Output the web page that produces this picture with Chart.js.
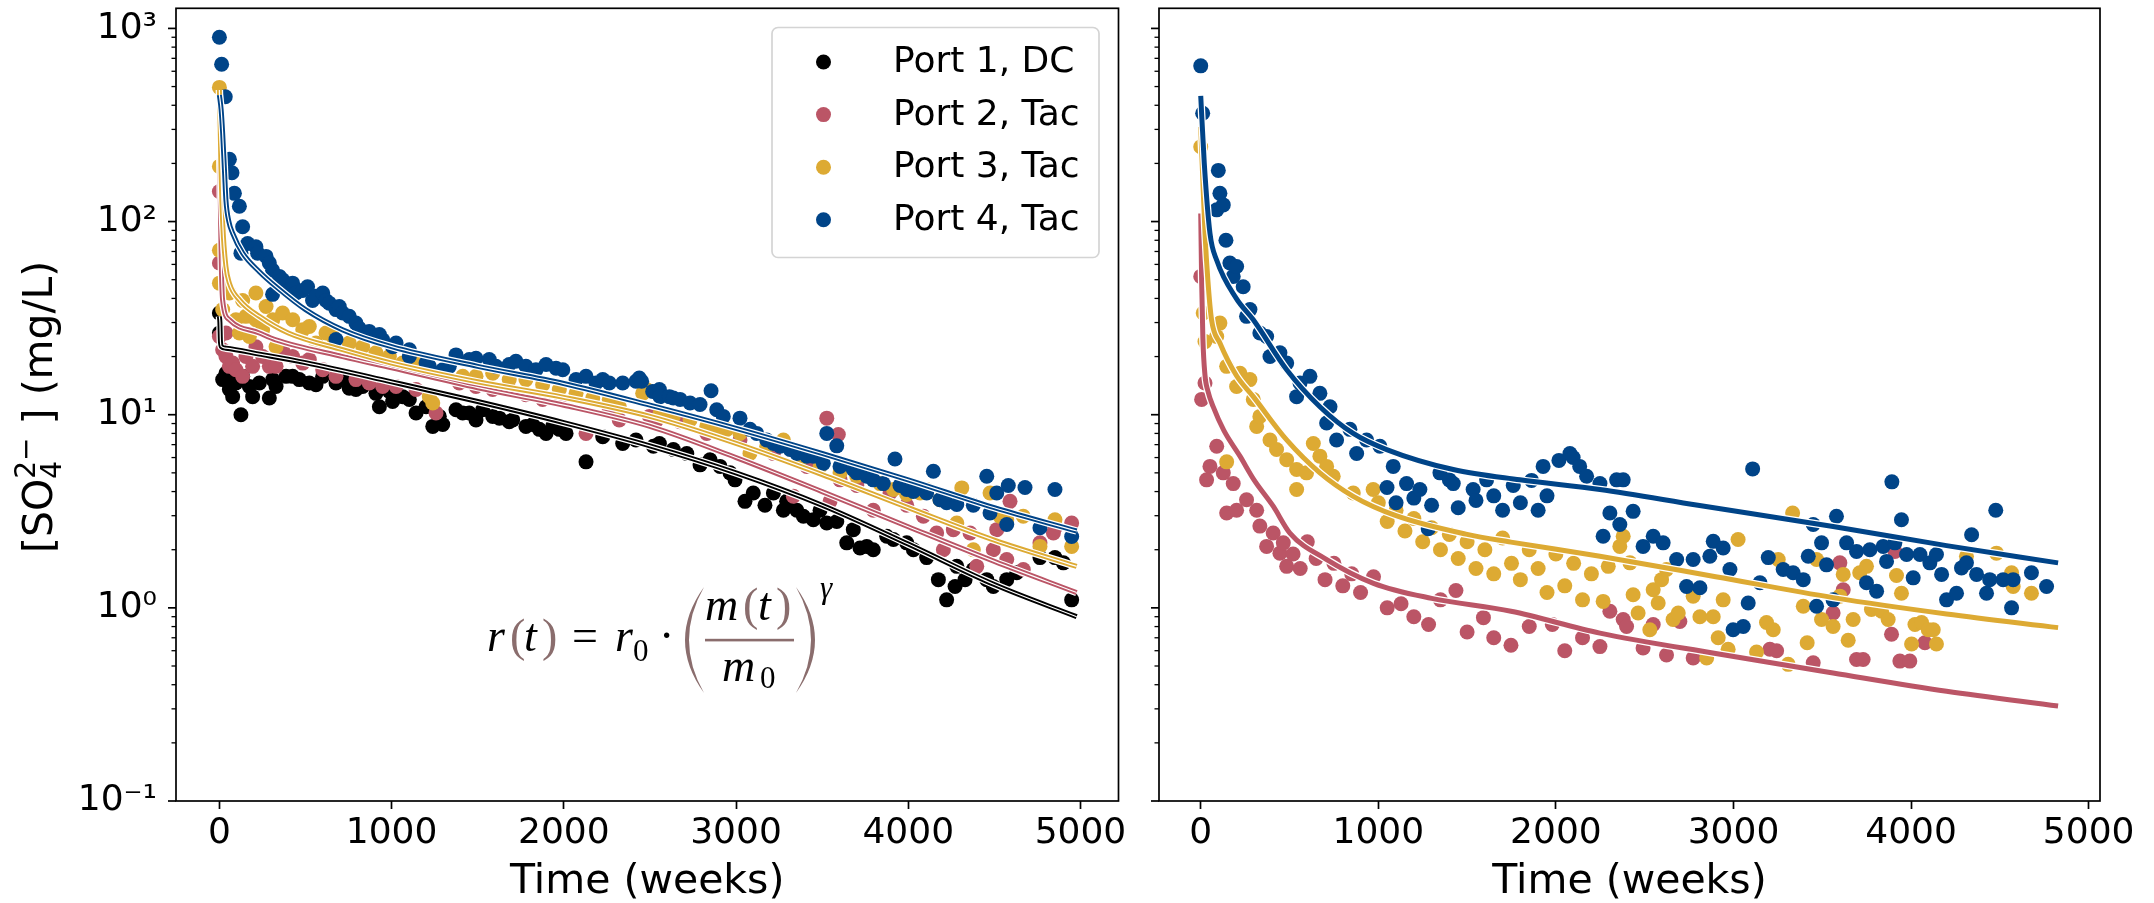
<!DOCTYPE html>
<html>
<head>
<meta charset="utf-8">
<script src="https://cdn.jsdelivr.net/npm/chart.js"></script>
<style>
html, body { margin: 0; padding: 0; background: #fff; }
#wrap { position: relative; width: 2154px; height: 903px; }
canvas { position: absolute; top: 0; }
#leftChart { left: 0; }
#rightChart { left: 1135px; }
</style>
</head>
<body>
<div id="wrap">
<canvas id="leftChart" width="1135" height="903"></canvas>
<canvas id="rightChart" width="1019" height="903"></canvas>
</div>
<script>
"use strict";

/* axis ticks and series names */
const xTickValues = [0, 1000, 2000, 3000, 4000, 5000];
const xTickLabels = ['0', '1000', '2000', '3000', '4000', '5000'];
const yTickValues = [0.1, 1, 10, 100, 1000];
const yTickLabels = ['10⁻¹', '10⁰', '10¹', '10²', '10³'];
const portNames = ['Port 1, DC', 'Port 2, Tac', 'Port 3, Tac', 'Port 4, Tac'];
const portColors = ['#000000', '#BB5566', '#DDAA33', '#004488'];

/* left panel: measured [week, mg/L] */
const leftPort1Obs = [[0,33.6],[0,26.5],[19,15.2],[38,16.4],[58,13.5],[58,15.2],[77,12.4],[96,14.6],[125,10.0],[135,15.8],[174,14.0],[193,12.4],[232,14.6],[290,12.2],[310,15.2],[329,14.0],[387,15.8],[425,15.8],[464,15.2],[522,14.6],[561,14.3],[600,15.8],[677,14.6],[716,15.2],[754,13.7],[793,13.5],[832,14.0],[909,12.9],[929,11.0],[987,13.2],[1006,11.7],[1064,12.4],[1103,12.0],[1142,10.2],[1200,11.0],[1239,8.7],[1277,9.8],[1297,8.9],[1374,10.6],[1413,10.2],[1451,10.2],[1490,9.4],[1529,10.6],[1587,9.8],[1626,9.6],[1683,9.2],[1703,9.4],[1780,8.7],[1819,8.9],[1858,8.4],[1897,8.0],[1935,8.7],[1974,8.4],[2013,8.0],[2129,5.7],[2226,7.7],[2342,7.1],[2419,7.4],[2520,6.86],[2555,7.1],[2636,6.6],[2714,6.3],[2791,5.5],[2849,5.85],[2907,5.4],[2965,5.0],[2994,4.6],[3052,3.56],[3100,3.93],[3168,3.4],[3217,3.93],[3275,3.2],[3294,3.56],[3353,3.2],[3391,2.98],[3449,2.86],[3488,3.2],[3527,2.75],[3585,2.8],[3643,2.17],[3681,2.54],[3720,2.04],[3759,2.08],[3797,2.0],[3875,2.35],[3914,2.26],[3991,2.17],[4030,2.0],[4107,1.82],[4175,1.4],[4223,1.1],[4272,1.29],[4282,1.64],[4330,1.4],[4378,1.58],[4456,1.4],[4494,1.29],[4572,1.4],[4630,1.52],[4765,1.82],[4852,1.82],[4901,1.71],[4949,1.1]];
const leftPort2Obs = [[0,143],[0,61],[0,25.4],[19,21.7],[38,26.5],[38,20],[58,17.8],[77,18.5],[96,17.1],[135,15.8],[154,20],[193,17.8],[212,22.5],[251,20],[290,17.8],[329,17.8],[367,21.7],[425,20],[484,18.5],[522,19.3],[600,17.1],[677,15.8],[793,15.2],[870,14.6],[948,14.0],[1026,14.0],[1142,13.5],[1258,10.2],[1393,14.6],[1490,14.0],[1587,13.5],[1683,13.5],[1780,12.7],[1877,12.0],[1974,12.0],[2129,8.0],[2264,10.6],[2322,9.4],[2497,9.8],[2539,9.4],[2675,9.2],[2830,8.0],[3023,7.4],[3217,6.3],[3333,3.78],[3411,5.4],[3527,9.6],[3546,3.56],[3594,7.9],[3604,4.6],[3701,4.3],[3797,3.2],[3894,3.93],[3991,3.4],[4088,2.98],[4165,2.44],[4204,2.0],[4262,2.54],[4359,2.44],[4398,1.64],[4494,2.0],[4514,2.54],[4572,1.78],[4591,3.56],[4668,1.58],[4765,2.17],[4843,2.44],[4852,2.6],[4949,2.75]];
const leftPort3Obs = [[0,495],[0,193],[0,71],[0,48],[19,35],[58,42.7],[96,31],[116,26.5],[135,39],[154,32.3],[174,25.4],[212,42.7],[212,31],[251,27.5],[271,36.3],[310,31],[329,22.5],[367,33.6],[426,31],[484,27.5],[522,28.6],[561,23.5],[619,26.5],[658,25.4],[754,23.5],[832,22.5],[909,20.9],[987,20],[1064,18.5],[1142,18.5],[1219,12.4],[1239,11.5],[1413,15.8],[1490,15.8],[1587,16.4],[1683,15.2],[1780,15.2],[1877,14.3],[1974,13.5],[2071,12.9],[2168,12.2],[2264,12.0],[2322,11.0],[2458,12.9],[2481,13.5],[2559,10.2],[2574,9.8],[2636,9.8],[2733,9.4],[2830,8.7],[2888,8.4],[2946,8.4],[3023,8.0],[3081,6.3],[3178,6.86],[3275,7.4],[3372,5.85],[3488,5.4],[3604,5.0],[3701,4.8],[3836,4.4],[3914,4.1],[3991,3.86],[4069,3.93],[4107,4.1],[4184,3.63],[4282,2.75],[4311,4.18],[4378,2.0],[4475,3.93],[4533,2.98],[4572,2.86],[4668,2.98],[4765,2.08],[4852,2.86],[4949,2.08]];
const leftPort4Obs = [[0,900],[13,652],[34,443],[58,210],[73,179],[87,140],[116,120],[125,68.6],[135,94],[164,77],[212,74],[222,68.6],[271,66],[290,61],[309,56],[309,42],[348,52],[367,50],[406,44],[425,48],[445,42.7],[484,44],[512,46],[541,39],[561,41],[600,42.7],[619,39],[638,37.8],[677,35],[677,24.5],[696,36.3],[716,33.6],[754,32.3],[793,29.8],[812,28],[870,27],[929,26],[948,24.4],[1006,22.5],[1026,23.5],[1103,20],[1103,21.7],[1200,18.5],[1219,17.8],[1297,17.1],[1335,17.8],[1374,20.4],[1451,19.3],[1490,19.6],[1567,19.3],[1606,17.8],[1683,18.2],[1722,18.9],[1780,17.8],[1838,17.1],[1897,18.2],[1955,17.4],[1994,17.1],[2071,15.2],[2129,15.8],[2187,14.6],[2226,15.2],[2264,14.6],[2342,14.6],[2419,14.9],[2438,15.5],[2452,14.9],[2516,13.2],[2555,13.5],[2559,12.4],[2613,12.4],[2636,12.2],[2675,12.0],[2733,11.5],[2791,11.3],[2855,13.3],[2888,10.6],[2926,9.8],[3023,9.6],[3081,8.4],[3120,8.0],[3178,7.4],[3217,7.1],[3256,6.86],[3314,6.6],[3353,6.3],[3411,6.1],[3449,6.1],[3507,5.6],[3527,8.0],[3585,6.9],[3604,5.4],[3681,5.2],[3701,5.0],[3759,4.8],[3797,4.6],[3855,4.4],[3923,5.9],[3952,4.3],[3991,4.1],[4030,4.0],[4088,4.1],[4107,3.93],[4146,5.1],[4184,3.63],[4223,3.5],[4282,3.43],[4378,3.4],[4456,4.8],[4475,3.1],[4514,3.93],[4572,2.7],[4581,4.3],[4678,4.2],[4765,2.6],[4852,4.1],[4949,2.34]];

/* left panel: fitted curves [week, mg/L] */
const leftPort1Fit = [[0,32.3],[3,30],[6,24],[12,22.5],[38,22.1],[232,20.6],[500,18.6],[1000,14.8],[1500,11.7],[2000,9.1],[2500,6.9],[3000,5.0],[3500,3.4],[4000,2.14],[4500,1.32],[4978,0.9]];
const leftPort2Fit = [[0,330],[3,200],[7,100],[12,55],[19,39],[58,31],[232,26.5],[329,24.4],[716,20],[1000,17.5],[1500,13.8],[2000,11.2],[2500,8.7],[3000,6.0],[3500,4.0],[4000,2.63],[4500,1.74],[4978,1.2]];
const leftPort3Fit = [[0,480],[4,330],[9,193],[20,95],[38,58.5],[58,48],[120,39],[232,32.3],[400,26.5],[716,21.7],[1000,18.5],[1500,14.8],[2000,12.3],[2500,9.8],[3000,7.1],[3500,4.9],[4000,3.3],[4500,2.24],[4978,1.64]];
const leftPort4Fit = [[0,452],[10,380],[19,286],[30,180],[38,129],[55,100],[77,87],[135,68.6],[232,55],[329,46],[500,35],[716,27.5],[1000,22.5],[1500,17.8],[2000,14.5],[2500,11.2],[3000,8.5],[3500,6.3],[4000,4.6],[4500,3.3],[4978,2.5]];

/* right panel: measured [week, mg/L] */
const rightPort2Obs = [[0,52],[24,14.6],[5,12.0],[90,6.86],[52,5.4],[33,4.6],[127,5.0],[183,4.4],[146,3.1],[202,3.2],[258,3.63],[315,3.2],[333,2.65],[408,2.44],[371,2.08],[446,1.92],[484,1.64],[465,2.17],[520,1.9],[560,1.6],[600,2.2],[650,1.8],[700,1.4],[750,1.7],[800,1.3],[850,1.5],[900,1.2],[973,1.45],[1050,1.0],[1128,1.05],[1200,0.9],[1283,0.82],[1350,1.1],[1437,1.23],[1500,0.75],[1592,0.89],[1650,0.7],[1747,0.64],[1850,0.8],[1980,0.82],[2050,0.6],[2150,0.7],[2248,0.63],[2304,0.96],[2379,0.87],[2398,0.8],[2491,0.62],[2548,0.82],[2623,0.57],[2698,0.85],[2773,0.55],[3205,0.61],[3243,0.6],[3449,0.52],[3561,0.94],[3599,1.71],[3618,1.24],[3693,0.54],[3730,0.54],[3890,0.73],[3909,1.96],[3937,0.53],[3993,0.53],[4078,0.66]];
const rightPort3Obs = [[0,244],[14,33.6],[24,23.9],[90,25.4],[108,29.8],[146,17.8],[146,5.7],[202,14.0],[221,16.4],[277,15.2],[296,12.0],[315,8.7],[333,9.8],[390,7.4],[427,6.6],[484,5.85],[540,5.2],[540,4.1],[596,5.0],[634,7.1],[671,6.1],[709,5.4],[746,4.8],[859,3.93],[971,4.1],[1000,3.5],[1050,2.8],[1100,3.2],[1150,2.5],[1200,2.9],[1250,2.2],[1300,2.6],[1350,2.0],[1400,2.4],[1450,1.8],[1500,2.2],[1550,1.6],[1600,2.0],[1650,1.5],[1700,2.3],[1750,1.7],[1800,1.4],[1850,2.0],[1900,1.6],[1950,1.2],[2000,1.9],[2050,1.3],[2100,1.7],[2150,1.1],[2200,1.5],[2266,1.08],[2295,1.64],[2360,2.08],[2379,2.35],[2417,1.71],[2435,1.17],[2463,0.94],[2529,0.77],[2548,1.24],[2576,1.06],[2595,1.4],[2623,1.58],[2660,0.87],[2689,0.94],[2773,1.15],[2811,0.9],[2849,0.55],[2886,0.9],[2914,0.7],[2942,1.1],[2970,0.61],[3026,2.26],[3130,0.59],[3186,0.84],[3224,0.77],[3252,1.78],[3308,0.51],[3333,3.1],[3393,1.02],[3415,0.66],[3468,1.78],[3496,0.87],[3561,0.8],[3599,1.15],[3618,1.49],[3646,0.68],[3674,0.87],[3711,1.52],[3749,1.64],[3777,0.98],[3834,0.96],[3871,0.87],[3918,1.47],[3946,1.19],[4003,0.65],[4022,0.82],[4059,0.84],[4097,0.77],[4125,0.77],[4143,0.65],[4312,1.85],[4481,1.92],[4566,1.52],[4575,1.29],[4678,1.19]];
const rightPort4Obs = [[0,640],[11,364],[90,115],[99,184],[108,140],[127,122],[142,80],[164,61],[183,52],[202,58.5],[239,46],[258,32.3],[277,35],[333,26.5],[371,25.4],[390,20],[446,20.9],[484,18.5],[540,12.4],[559,14.6],[615,15.8],[671,12.9],[709,9.06],[728,11.0],[765,7.4],[840,8.4],[878,6.3],[934,7.4],[1009,6.86],[1049,4.2],[1084,5.4],[1100,3.5],[1159,4.4],[1200,3.7],[1234,4.1],[1281,2.57],[1300,3.4],[1347,5.0],[1400,4.6],[1422,4.4],[1450,3.3],[1534,4.1],[1550,3.6],[1610,4.6],[1650,3.8],[1700,3.2],[1760,4.3],[1800,3.5],[1863,4.57],[1900,3.2],[1928,5.4],[1950,3.8],[2017,5.8],[2079,6.3],[2097,6.0],[2134,5.4],[2173,4.8],[2248,4.4],[2266,2.35],[2304,3.1],[2342,4.6],[2360,2.7],[2379,4.6],[2435,3.16],[2491,2.08],[2548,2.35],[2604,2.17],[2680,1.78],[2736,1.29],[2773,1.78],[2811,1.27],[2867,1.85],[2886,2.21],[2942,2.04],[2980,1.58],[2998,0.77],[3055,0.8],[3083,1.06],[3108,5.24],[3149,1.35],[3196,1.82],[3280,1.58],[3336,1.52],[3393,1.4],[3421,1.85],[3449,2.7],[3468,1.02],[3496,2.17],[3524,1.67],[3561,1.1],[3580,2.98],[3637,2.17],[3693,1.96],[3749,1.35],[3768,2.0],[3806,1.22],[3843,2.08],[3862,1.74],[3892,4.49],[3909,2.17],[3946,2.86],[3975,1.89],[4012,1.43],[4050,1.89],[4106,1.71],[4143,1.89],[4172,1.49],[4200,1.1],[4256,1.19],[4284,1.61],[4312,1.71],[4341,2.39],[4369,1.49],[4425,1.19],[4443,1.4],[4477,3.2],[4519,1.4],[4566,1.0],[4575,1.4],[4678,1.52],[4763,1.29]];

/* right panel: fitted curves [week, mg/L] */
const rightPort2Fit = [[0,110],[5,50],[12,25],[24,16],[40,13.3],[70,11.0],[130,8.3],[221,6.1],[300,4.6],[408,3.36],[502,2.44],[700,1.8],[973,1.34],[1300,1.12],[1747,0.96],[2248,0.74],[2900,0.58],[3561,0.46],[4200,0.37],[4828,0.31]];
const rightPort3Fit = [[0,309],[10,180],[24,87],[40,50],[61,31],[108,23.5],[200,16],[296,12.4],[484,7.4],[671,5.0],[859,3.78],[1100,3.0],[1500,2.4],[1747,2.19],[2248,1.85],[2900,1.45],[3561,1.13],[4200,0.93],[4828,0.79]];
const rightPort4Fit = [[0,447],[20,200],[52,87],[90,63],[200,40],[296,31],[484,17.1],[671,11.0],[859,8.0],[1047,6.6],[1422,5.2],[1797,4.6],[2248,4.1],[2800,3.4],[3561,2.64],[4200,2.1],[4828,1.71]];

function toXY(pairs) {
    return pairs.map(function (p) { return { x: p[0], y: p[1] }; });
}

function buildDatasets(obsList, fitList, withCore) {
    var sets = [];
    obsList.forEach(function (pts, i) {
        if (!pts) return;
        sets.push({
            label: portNames[i],
            data: toXY(pts),
            backgroundColor: portColors[i],
            borderWidth: 0,
            pointRadius: 7.5,
            pointBorderWidth: 0,
            showLine: false,
            order: 100 - i
        });
    });
    fitList.forEach(function (pts, i) {
        if (!pts) return;
        var d = toXY(pts);
        var line = { data: d, showLine: true, pointRadius: 0, fill: false, cubicInterpolationMode: 'monotone', borderJoinStyle: 'round' };
        sets.push(Object.assign({}, line, { borderColor: '#ffffff', borderWidth: 7.5, order: 50 - 3 * i }));
        sets.push(Object.assign({}, line, { borderColor: portColors[i], borderWidth: 5, order: 49 - 3 * i }));
        if (withCore) {
            sets.push(Object.assign({}, line, { borderColor: '#ffffff', borderWidth: 1.2, order: 48 - 3 * i }));
        }
    });
    return sets;
}

/* spines and log ticks, matplotlib style */
var frameTicks = {
    id: 'frameTicks',
    afterDatasetsDraw: function (chart) {
        var ctx = chart.ctx, a = chart.chartArea, y = chart.scales.y;
        ctx.save();
        ctx.strokeStyle = '#000';
        for (var e = -1; e <= 3; e++) {
            for (var m = 1; m < 10; m++) {
                var v = m * Math.pow(10, e);
                if (v < y.min || v > y.max) continue;
                var p = y.getPixelForValue(v);
                ctx.lineWidth = m === 1 ? 1.7 : 1.3;
                ctx.beginPath();
                ctx.moveTo(a.left, p);
                ctx.lineTo(a.left - (m === 1 ? 8 : 4.5), p);
                ctx.stroke();
            }
        }
        ctx.lineWidth = 1.7;
        ctx.strokeRect(a.left, a.top, a.right - a.left, a.bottom - a.top);
        ctx.restore();
    }
};

/* y title with stacked sub/superscript */
var yTitle = {
    id: 'yTitle',
    afterDraw: function (chart) {
        var ctx = chart.ctx;
        ctx.save();
        ctx.translate(52, 553);
        ctx.rotate(-Math.PI / 2);
        ctx.fillStyle = '#000';
        ctx.textBaseline = 'alphabetic';
        ctx.font = '41px "DejaVu Sans"';
        ctx.fillText('[SO', 0, 0);
        var x = ctx.measureText('[SO').width;
        ctx.font = '28px "DejaVu Sans"';
        ctx.fillText('4', x, 9);
        ctx.fillText('2\u2212', x, -17);
        x += ctx.measureText('2\u2212').width;
        ctx.font = '41px "DejaVu Sans"';
        ctx.fillText(' ] (mg/L)', x, 0);
        ctx.restore();
    }
};

/* legend box in the upper right of the left panel */
var portLegend = {
    id: 'portLegend',
    afterDraw: function (chart) {
        var ctx = chart.ctx;
        ctx.save();
        ctx.beginPath();
        ctx.roundRect(772, 27.5, 327, 230, 6);
        ctx.fillStyle = 'rgba(255,255,255,0.8)';
        ctx.fill();
        ctx.lineWidth = 1.7;
        ctx.strokeStyle = '#d4d4d4';
        ctx.stroke();
        ctx.font = '36px "DejaVu Sans"';
        ctx.textBaseline = 'alphabetic';
        portNames.forEach(function (name, i) {
            var cy = 62 + i * 52.6;
            ctx.beginPath();
            ctx.arc(823.5, cy, 7.5, 0, Math.PI * 2);
            ctx.fillStyle = portColors[i];
            ctx.fill();
            ctx.fillStyle = '#000';
            ctx.fillText(name, 893, cy + 10);
        });
        ctx.restore();
    }
};

/* rate law annotation */
var rateLaw = {
    id: 'rateLaw',
    afterDraw: function (chart) {
        var ctx = chart.ctx;
        var brown = '#8a6d6d';
        var it = 'italic 46px "Liberation Serif"';
        var up = '46px "Liberation Serif"';
        var sub = '31px "Liberation Serif"';
        ctx.save();
        ctx.textBaseline = 'alphabetic';
        function put(txt, font, color, x, y) {
            ctx.font = font;
            ctx.fillStyle = color;
            ctx.fillText(txt, x, y);
        }
        put('r', it, '#000', 487, 651);
        put('(', up, brown, 510, 651);
        put('t', it, '#000', 524, 651);
        put(')', up, brown, 542, 651);
        put('=', up, '#000', 572, 651);
        put('r', it, '#000', 615, 651);
        put('0', sub, '#000', 633, 661);
        put('·', up, '#000', 659, 651);
        put('m', it, '#000', 705, 620);
        put('(', up, brown, 743, 620);
        put('t', it, '#000', 758, 620);
        put(')', up, brown, 776, 620);
        put('m', it, '#000', 722, 681);
        put('0', sub, '#000', 760, 688);
        ctx.fillStyle = brown;
        ctx.fillRect(705, 638.8, 89, 2.6);
        ctx.beginPath();
        ctx.moveTo(704, 587);
        ctx.quadraticCurveTo(666, 640, 704, 693);
        ctx.quadraticCurveTo(674, 640, 704, 587);
        ctx.fill();
        ctx.beginPath();
        ctx.moveTo(796, 587);
        ctx.quadraticCurveTo(834, 640, 796, 693);
        ctx.quadraticCurveTo(826, 640, 796, 587);
        ctx.fill();
        put('γ', 'italic 31px "Liberation Serif"', '#000', 820, 598);
        ctx.restore();
    }
};

function noPadding(s) {
    s.paddingTop = 0;
    s.paddingBottom = 0;
    s.paddingLeft = 0;
    s.paddingRight = 0;
}

function panelOptions(cfg) {
    return {
        responsive: false,
        animation: false,
        events: [],
        layout: { autoPadding: false, padding: { left: 0, top: 8.3, right: cfg.padRight, bottom: 0 } },
        plugins: { legend: { display: false }, tooltip: { enabled: false } },
        scales: {
            x: {
                type: 'linear',
                min: cfg.xMin,
                max: cfg.xMax,
                afterBuildTicks: function (s) { s.ticks = xTickValues.map(function (v) { return { value: v }; }); },
                afterFit: function (s) { s.height = 102; noPadding(s); },
                grid: { drawOnChartArea: false, drawTicks: true, tickLength: 8, tickWidth: 1.7, tickColor: '#000' },
                border: { display: false },
                ticks: {
                    color: '#000', padding: 3, maxRotation: 0, autoSkip: false,
                    font: { size: 36 },
                    callback: function (v) { return xTickLabels[xTickValues.indexOf(v)]; }
                },
                title: { display: true, text: 'Time (weeks)', color: '#000', font: { size: 41, lineHeight: 1.0 }, padding: { top: 0, bottom: 0 } }
            },
            y: {
                type: 'logarithmic',
                min: 0.1,
                max: 1271,
                afterBuildTicks: function (s) { s.ticks = yTickValues.map(function (v) { return { value: v }; }); },
                afterFit: function (s) { s.width = cfg.yWidth; noPadding(s); },
                grid: { display: false, drawTicks: false },
                border: { display: false },
                ticks: {
                    display: cfg.yLabels, color: '#000', padding: 19,
                    font: { size: 36 },
                    callback: function (v) { return yTickLabels[yTickValues.indexOf(v)]; }
                }
            }
        }
    };
}

Chart.defaults.font.family = '"DejaVu Sans", sans-serif';

var leftChart = new Chart(document.getElementById('leftChart').getContext('2d'), {
    type: 'scatter',
    data: { datasets: buildDatasets([leftPort1Obs, leftPort2Obs, leftPort3Obs, leftPort4Obs], [leftPort1Fit, leftPort2Fit, leftPort3Fit, leftPort4Fit], true) },
    options: panelOptions({ xMin: -252, xMax: 5221, padRight: 16.5, yWidth: 176, yLabels: true }),
    plugins: [frameTicks, yTitle, portLegend, rateLaw]
});

var rightChart = new Chart(document.getElementById('rightChart').getContext('2d'), {
    type: 'scatter',
    data: { datasets: buildDatasets([null, rightPort2Obs, rightPort3Obs, rightPort4Obs], [null, rightPort2Fit, rightPort3Fit, rightPort4Fit], false) },
    options: panelOptions({ xMin: -235, xMax: 5064, padRight: 54, yWidth: 24, yLabels: false }),
    plugins: [frameTicks]
});
</script>
</body>
</html>
